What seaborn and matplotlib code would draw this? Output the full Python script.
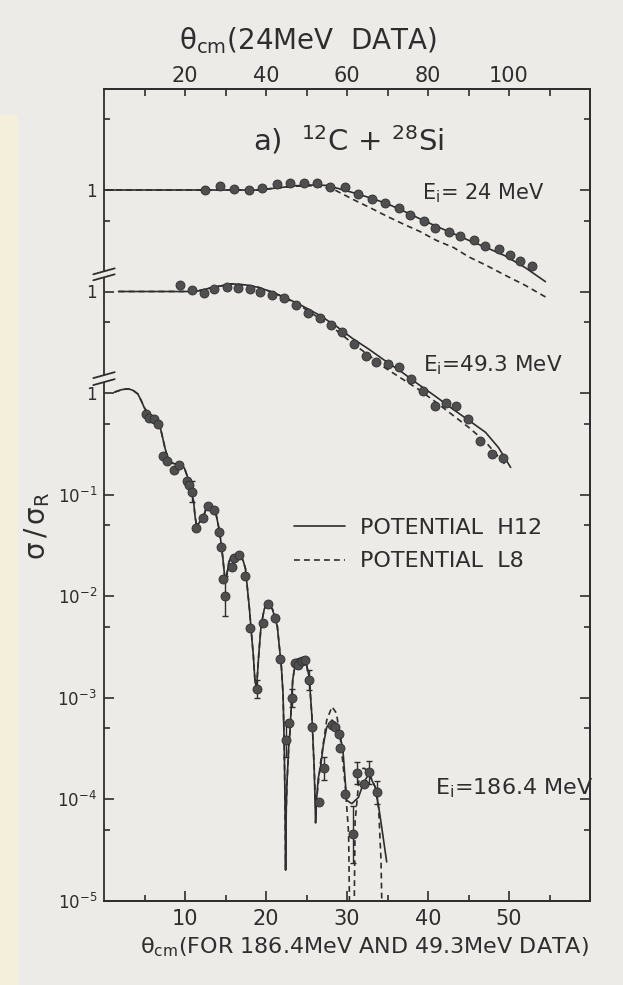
import numpy as np
import matplotlib
matplotlib.use('Agg')
import matplotlib.pyplot as plt
import seaborn as sns
from matplotlib.ticker import FixedLocator, FixedFormatter, NullFormatter
from matplotlib.lines import Line2D
from matplotlib.patches import Rectangle

# ---------------- data (sigma / sigma_Rutherford) ----------------
# 24 MeV data (angles on top axis, theta_cm 24 MeV scale)
th24_pts = [25.0, 28.7, 32.2, 35.9, 39.1, 42.8, 46.0, 49.4, 52.6, 55.8, 59.5, 62.7, 66.2,
            69.4, 72.8, 75.5, 79.0, 81.7, 85.2, 87.9, 91.3, 94.0, 97.5, 100.2, 102.6, 105.6]
s24_pts = [0.99, 1.10, 1.03, 1.00, 1.04, 1.14, 1.16, 1.18, 1.17, 1.07, 1.06, 0.92, 0.82,
           0.74, 0.66, 0.57, 0.50, 0.42, 0.385, 0.35, 0.32, 0.28, 0.26, 0.23, 0.20, 0.18]
th24_h12 = [0.5, 20, 38, 43, 47, 51, 55, 58, 62, 66, 70, 74, 78, 82, 86.4, 90, 94.5, 99, 104, 109]
s24_h12 = [1.0, 1.0, 1.0, 1.05, 1.10, 1.12, 1.11, 1.03, 0.93, 0.83, 0.73, 0.62, 0.52, 0.44,
           0.37, 0.32, 0.27, 0.225, 0.172, 0.125]
th24_l8 = [0.5, 20, 38, 43, 47, 51, 54, 57, 61.7, 66, 69.9, 74, 78, 82, 86.4, 90, 94.5, 99, 104, 109.3]
s24_l8 = [1.0, 1.0, 1.0, 1.05, 1.09, 1.10, 1.07, 1.0, 0.80, 0.66, 0.55, 0.46, 0.39, 0.32,
          0.27, 0.22, 0.18, 0.145, 0.115, 0.087]

# 49.3 MeV data (bottom axis)
th49_pts = [9.42, 10.86, 12.3, 13.53, 15.19, 16.54, 18.06, 19.3, 20.74, 22.17, 23.7, 25.19,
            26.62, 28.06, 29.38, 30.81, 32.35, 33.58, 35.06, 36.37, 37.94, 39.33, 40.81,
            42.26, 43.49, 44.94, 46.46, 47.9, 49.2]
s49_pts = [1.16, 1.03, 0.975, 1.05, 1.12, 1.08, 1.06, 0.98, 0.92, 0.87, 0.74, 0.61, 0.545,
           0.47, 0.40, 0.306, 0.234, 0.204, 0.193, 0.181, 0.136, 0.104, 0.074, 0.079, 0.075,
           0.056, 0.034, 0.025, 0.023]
th49_h12 = [1.8, 6, 11.3, 13.5, 15.8, 17.5, 19.05, 20.7, 22.4, 24.5, 26.5, 28.6, 30.65, 32.7,
            34.7, 36.8, 38.8, 40.9, 43.0, 45.0, 47.1, 48.7, 50.2]
s49_h12 = [1.0, 1.0, 1.0, 1.1, 1.19, 1.16, 1.10, 0.99, 0.87, 0.72, 0.59, 0.46, 0.346, 0.27,
           0.208, 0.16, 0.122, 0.093, 0.070, 0.054, 0.041, 0.029, 0.0185]
th49_l8 = [1.8, 6, 11.3, 13.5, 15.8, 17.5, 19.05, 20.7, 22.4, 24.5, 26.5, 28.6, 30.65, 32.7,
           34.7, 36.8, 38.8, 40.9, 43.0, 45.0, 47.1, 49.7]
s49_l8 = [1.0, 1.0, 1.0, 1.1, 1.19, 1.16, 1.10, 0.99, 0.86, 0.70, 0.55, 0.42, 0.31, 0.235,
          0.177, 0.138, 0.109, 0.082, 0.061, 0.046, 0.033, 0.019]

# 186.4 MeV data (bottom axis)
th186_pts = [5.15, 5.56, 6.17, 6.69, 7.30, 7.81, 8.62, 9.32, 10.22, 10.5, 10.9, 11.41, 12.25,
             12.9, 13.63, 14.19, 14.44, 14.63, 14.95, 15.81, 16.05, 16.67, 17.44, 18.04,
             18.85, 19.57, 20.23, 21.1, 21.73, 22.53, 22.9, 23.27, 23.57, 23.99, 24.4, 24.8,
             25.37, 25.65, 26.59, 27.17, 28.12, 28.53, 29.0, 29.09, 29.78, 30.78, 31.2,
             32.07, 32.72, 33.69]
s186_pts = [0.62, 0.57, 0.55, 0.49, 0.239, 0.216, 0.176, 0.194, 0.135, 0.124, 0.107, 0.0472,
            0.0582, 0.0769, 0.0702, 0.0429, 0.0305, 0.0148, 0.0100, 0.0193, 0.0237, 0.0251,
            0.0159, 0.0048, 0.00122, 0.0054, 0.0083, 0.0061, 0.00237, 0.000384, 0.000561,
            0.00099, 0.00219, 0.0021, 0.00227, 0.00236, 0.00149, 0.000515, 9.3e-5, 2.0e-4,
            5.3e-4, 5.1e-4, 4.4e-4, 3.2e-4, 1.12e-4, 4.5e-5, 1.8e-4, 1.4e-4, 1.83e-4, 1.16e-4]
# error bar half widths in decades (0 = no visible bar)
e186_dex = [0, 0, 0, 0, 0, 0, 0, 0, 0, 0, 0.10, 0, 0, 0, 0, 0, 0, 0, 0.20, 0, 0, 0, 0, 0,
            0.09, 0, 0, 0, 0, 0.17, 0, 0.085, 0, 0, 0, 0, 0.10, 0, 0, 0.11, 0, 0, 0, 0, 0,
            0.28, 0.11, 0, 0.11, 0.11]
th186_h12 = [1.3, 2.2, 3.0, 3.6, 4.17, 4.6, 4.96, 5.5, 5.96, 6.5, 6.95, 7.25, 7.52, 7.9, 8.3,
             8.8, 9.33, 9.93, 10.5, 10.8, 11.06, 11.25, 11.42, 11.7, 12.25, 12.6, 12.9, 13.3,
             13.73, 14.0, 14.27, 14.5, 14.68, 14.85, 14.96, 15.1, 15.42, 15.7, 16.05, 16.5,
             16.88, 17.2, 17.47, 17.7, 17.96, 18.2, 18.44, 18.65, 18.85, 19.1, 19.4, 19.8,
             20.25, 20.8, 21.4, 21.9, 22.1, 22.25, 22.35, 22.42, 22.5, 22.6, 22.8, 22.95,
             23.3, 23.7, 24.1, 24.6, 25.0, 25.33, 25.67, 25.94, 26.05, 26.12, 26.25, 26.45,
             26.74, 27.1, 27.5, 28.15, 28.96, 29.5, 29.96, 30.6, 31.42, 32.07, 32.7, 33.5,
             34.05, 34.9]
s186_h12 = [1.02, 1.08, 1.10, 1.06, 0.98, 0.84, 0.72, 0.62, 0.57, 0.51, 0.455, 0.36, 0.289,
            0.225, 0.205, 0.20, 0.20, 0.182, 0.135, 0.105, 0.0855, 0.060, 0.050, 0.052,
            0.060, 0.072, 0.076, 0.075, 0.070, 0.055, 0.043, 0.031, 0.0233, 0.017, 0.0148,
            0.0150, 0.0216, 0.0243, 0.025, 0.0258, 0.025, 0.022, 0.0185, 0.012, 0.0074,
            0.0043, 0.00257, 0.0014, 0.0013, 0.0026, 0.0052, 0.0075, 0.0085, 0.0074, 0.0050,
            0.0020, 0.0011, 3.5e-4, 9e-5, 2.0e-5, 8e-5, 1.5e-4, 3.2e-4, 4.5e-4, 1.5e-3,
            2.36e-3, 2.42e-3, 2.4e-3, 2.1e-3, 1.6e-3, 6.5e-4, 2.1e-4, 1.0e-4, 5.8e-5, 1.0e-4,
            1.6e-4, 2.1e-4, 3.5e-4, 5.1e-4, 6.0e-4, 5.1e-4, 3.0e-4, 9.7e-5, 9.0e-5, 1.04e-4,
            1.46e-4, 1.76e-4, 1.3e-4, 7.1e-5, 2.4e-5]
th186_l8 = [1.3, 2.2, 3.0, 3.6, 4.17, 4.6, 4.96, 5.5, 5.96, 6.5, 6.95, 7.25, 7.52, 7.9, 8.3,
            8.8, 9.33, 9.93, 10.5, 10.8, 11.06, 11.25, 11.42, 11.7, 12.25, 12.6, 12.9, 13.3,
            13.73, 14.0, 14.27, 14.5, 14.68, 14.85, 14.96, 15.1, 15.42, 15.7, 16.05, 16.5,
            16.88, 17.2, 17.47, 17.7, 17.96, 18.2, 18.44, 18.65, 18.85, 19.1, 19.4, 19.8,
            20.25, 20.8, 21.4, 21.9, 22.1, 22.25, 22.35, 22.42, 22.5, 22.6, 22.8, 22.95,
            23.3, 23.7, 24.1, 24.6, 25.0, 25.33, 25.67, 25.94, 26.15, 26.35, 26.74, 27.5,
            28.15, 28.7, 29.2, 29.8, 30.2, 30.3, 30.6, 30.9, 31.0, 31.6, 32.2, 33.0, 33.5,
            33.9, 34.2, 34.45]
s186_l8 = [1.02, 1.08, 1.10, 1.06, 0.98, 0.84, 0.72, 0.62, 0.57, 0.51, 0.455, 0.36, 0.289,
           0.225, 0.205, 0.20, 0.20, 0.182, 0.135, 0.105, 0.0855, 0.060, 0.050, 0.052,
           0.060, 0.072, 0.076, 0.075, 0.070, 0.055, 0.043, 0.031, 0.0233, 0.017, 0.0148,
           0.0150, 0.0216, 0.0243, 0.025, 0.0258, 0.025, 0.022, 0.0185, 0.012, 0.0074,
           0.0043, 0.00257, 0.0014, 0.0013, 0.0026, 0.0052, 0.0075, 0.0085, 0.0074, 0.0050,
           0.0020, 0.0011, 3.5e-4, 9e-5, 2.0e-5, 8e-5, 1.5e-4, 3.2e-4, 4.5e-4, 1.5e-3,
           2.36e-3, 2.42e-3, 2.4e-3, 2.1e-3, 1.6e-3, 6.5e-4, 2.1e-4, 8e-5, 1.2e-4, 2.3e-4,
           6.0e-4, 8.1e-4, 7.0e-4, 3.8e-4, 1.3e-4, 4.6e-5, 1.0e-5, 1e-6, 1.0e-5, 6e-5,
           2.0e-4, 2.0e-4, 1.6e-4, 1.3e-4, 8.2e-5, 2.5e-5, 2e-6]

# vertical offsets of the stacked distributions (broken axis)
OFF24 = 100.0
OFF49 = 10.0

# tick definitions
bottom_major = [10, 20, 30, 40, 50]
bottom_minor = [5, 15, 25, 35, 45, 55]
top_major = [20, 40, 60, 80, 100]
top_minor = [10, 30, 50, 70, 90, 110]
y_major = [1e-5, 1e-4, 1e-3, 1e-2, 1e-1, 1, 10, 100]
y_major_lbl = [r'$\mathregular{10^{-5}}$', r'$\mathregular{10^{-4}}$', r'$\mathregular{10^{-3}}$',
               r'$\mathregular{10^{-2}}$', r'$\mathregular{10^{-1}}$', '1', '1', '1']
y_minor = [5e-5, 5e-4, 5e-3, 5e-2, 0.5, 5, 50, 500]

# ---------------- style ----------------
sns.set_style('ticks')
plt.rcParams['font.family'] = ['DejaVu Sans']
plt.rcParams['mathtext.fontset'] = 'dejavusans'

INK = '#2e2e2e'
PT = '#4f4f4f'
BG = '#ecebe7'
LW = 1.2

fig = plt.figure(figsize=(6.23, 9.85), dpi=100, facecolor=BG)
fig.patches.append(Rectangle((0, 0), 18 / 623, 870 / 985, transform=fig.transFigure,
                             facecolor='#f3efdb', edgecolor='none', zorder=-5))
ax = fig.add_axes([104 / 623, 1 - 900.5 / 985, 486 / 623, 812 / 985])
ax.set_facecolor(BG)
ax.set_yscale('log')
ax.set_xlim(0, 60)
ax.set_ylim(1e-5, 1e3)
axt = ax.twiny()
axt.set_xlim(0, 120)

# ---------------- curves ----------------
sns.lineplot(x=th24_h12, y=np.array(s24_h12) * OFF24, ax=axt, color=INK, lw=LW,
             estimator=None, sort=False)
sns.lineplot(x=th24_l8, y=np.array(s24_l8) * OFF24, ax=axt, color=INK, lw=LW,
             linestyle=(0, (3.5, 2.5)), estimator=None, sort=False)
sns.lineplot(x=th49_h12, y=np.array(s49_h12) * OFF49, ax=ax, color=INK, lw=LW,
             estimator=None, sort=False)
sns.lineplot(x=th49_l8, y=np.array(s49_l8) * OFF49, ax=ax, color=INK, lw=LW,
             linestyle=(0, (3.5, 2.5)), estimator=None, sort=False)
sns.lineplot(x=th186_h12, y=s186_h12, ax=ax, color=INK, lw=LW,
             estimator=None, sort=False)
sns.lineplot(x=th186_l8, y=s186_l8, ax=ax, color=INK, lw=LW,
             linestyle=(0, (3.5, 2.5)), estimator=None, sort=False)

# ---------------- data points ----------------
mk = dict(color=PT, s=42, edgecolor=INK, linewidth=0.6, zorder=4)
sns.scatterplot(x=th24_pts, y=np.array(s24_pts) * OFF24, ax=axt, **mk)
sns.scatterplot(x=th49_pts, y=np.array(s49_pts) * OFF49, ax=ax, **mk)
v = np.array(s186_pts)
f = 10 ** np.array(e186_dex)
ax.errorbar(th186_pts, v, yerr=[v - v / f, v * f - v], fmt='none', ecolor=INK,
            elinewidth=1.0, capsize=2.5, capthick=1.0, zorder=3)
sns.scatterplot(x=th186_pts, y=s186_pts, ax=ax, **mk)

# ---------------- axes styling ----------------
for a in (ax, axt):
    for s in a.spines.values():
        s.set_color(INK)
        s.set_linewidth(1.3)
axt.spines['left'].set_visible(False)
ax.spines['left'].set_visible(False)
# broken left axis
ytr = ax.get_yaxis_transform()
for lo, hi in [(1e-5, 1.28), (1.50, 13.8), (15.8, 1e3)]:
    ax.plot([0, 0], [lo, hi], color=INK, lw=1.3, transform=ytr, clip_on=False,
            solid_capstyle='butt')
for yb in [1.28, 1.50, 13.8, 15.8]:
    ax.plot([-0.022, 0.022], [yb / 1.07, yb * 1.07], color=INK, lw=1.3, transform=ytr,
            clip_on=False)

ax.xaxis.set_major_locator(FixedLocator(bottom_major))
ax.xaxis.set_minor_locator(FixedLocator(bottom_minor))
axt.xaxis.set_major_locator(FixedLocator(top_major))
axt.xaxis.set_minor_locator(FixedLocator(top_minor))
ax.yaxis.set_major_locator(FixedLocator(y_major))
ax.yaxis.set_major_formatter(FixedFormatter(y_major_lbl))
ax.yaxis.set_minor_locator(FixedLocator(y_minor))
ax.yaxis.set_minor_formatter(NullFormatter())

ax.tick_params(axis='both', which='both', direction='in', color=INK, labelcolor=INK,
               labelsize=15, width=1.2)
ax.tick_params(axis='y', which='both', left=True, right=True, labelsize=12)
ax.tick_params(axis='y', which='major', length=7, pad=5)
ax.tick_params(axis='y', which='minor', length=4)
ax.tick_params(axis='x', which='major', length=7, pad=6)
ax.tick_params(axis='x', which='minor', length=4)
axt.tick_params(axis='x', which='both', direction='in', color=INK, labelcolor=INK,
                labelsize=15, width=1.2, length=5, pad=2)

ax.set_xlabel(r'$\mathregular{\theta_{cm}}$(FOR 186.4MeV AND 49.3MeV DATA)', fontsize=16,
              color=INK)
ax.xaxis.set_label_coords(0.536, -0.043)
axt.set_xlabel(r'$\mathregular{\theta_{cm}}$(24MeV  DATA)', fontsize=20, color=INK)
axt.xaxis.set_label_coords(0.42, 1.049)
ax.set_ylabel(r'$\mathregular{\sigma\,/\,\sigma_R}$', fontsize=20, color=INK)
ax.yaxis.set_label_coords(-0.108, 0.462)

# ---------------- annotations ----------------
ax.text(0.502, 0.9366, r'a)  $\mathregular{^{12}}$C + $\mathregular{^{28}}$Si', fontsize=21,
        color=INK, ha='center', va='center', transform=ax.transAxes)
ax.text(0.654, 0.871, r'$\mathregular{E_i}$= 24 MeV', fontsize=15, color=INK,
        ha='left', va='center', transform=ax.transAxes)
ax.text(0.656, 0.659, r'$\mathregular{E_i}$=49.3 MeV', fontsize=15.5, color=INK,
        ha='left', va='center', transform=ax.transAxes)
ax.text(0.681, 0.1385, r'$\mathregular{E_i}$=186.4 MeV', fontsize=16, color=INK,
        ha='left', va='center', transform=ax.transAxes)

handles = [Line2D([], [], color=INK, lw=LW),
           Line2D([], [], color=INK, lw=LW, linestyle=(0, (3.5, 2.5)))]
leg = ax.legend(handles, ['POTENTIAL  H12', 'POTENTIAL  L8'], loc='upper left',
                bbox_to_anchor=(0.39, 0.471), frameon=False, handlelength=2.3,
                handletextpad=0.7, labelspacing=0.6, fontsize=16, borderaxespad=0,
                borderpad=0)
for t in leg.get_texts():
    t.set_color(INK)

fig.savefig('out.png', dpi=100, facecolor=BG)
